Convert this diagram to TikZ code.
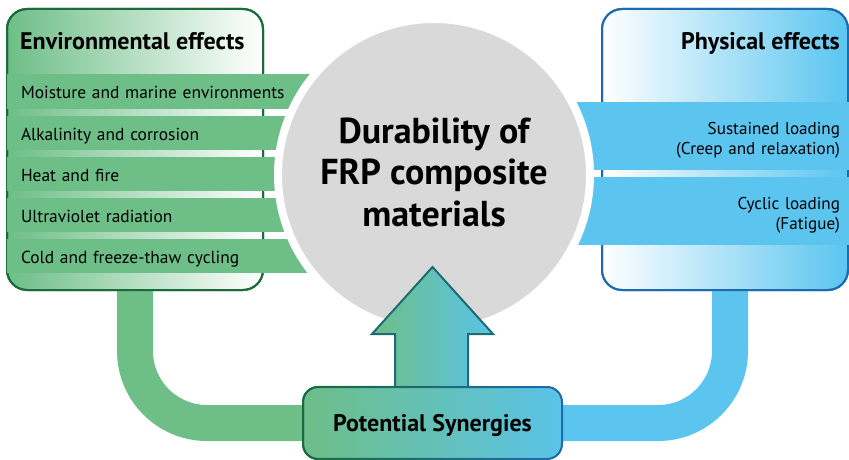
\documentclass[tikz,border=0pt]{standalone}
\usepackage{fontspec}
\setmainfont{PT Sans}
\usetikzlibrary{fadings}

\definecolor{envgreen}{RGB}{110,190,135}
\definecolor{envdark}{RGB}{28,107,58}
\definecolor{physblue}{RGB}{91,197,240}
\definecolor{physdark}{RGB}{30,108,176}
\definecolor{synblue}{RGB}{90,195,232}
\definecolor{arrowdark}{RGB}{28,108,114}
\definecolor{coregray}{RGB}{217,217,217}

\begin{document}
\begin{tikzpicture}[x=1pt,y=-1pt,
  box/.style={rectangle, rounded corners=20, line width=2, inner sep=0, outer sep=0},
  envbox/.style={box, draw=envdark, left color=envgreen, right color=white,
    minimum width=256, minimum height=281},
  physbox/.style={box, draw=physdark, left color=white, right color=physblue,
    minimum width=246, minimum height=281},
  boxtitle/.style={inner sep=0, font=\bfseries\fontsize{24}{28}\selectfont},
  lband/.style={rectangle, fill=envgreen, inner sep=0, minimum height=34,
    minimum width=323, text width=295, align=left, text height=15, text depth=0,
    font=\fontsize{17.4}{20}\selectfont},
  rband/.style={rectangle, fill=physblue, inner sep=0, minimum height=68,
    minimum width=289, text width=271, align=right, text height=12.5, text depth=16.5,
    font=\fontsize{17.1}{20.5}\selectfont},
  pipe/.style={line width=36, rounded corners=72},
  core/.style={circle, fill=coregray, draw=white, line width=8, inner sep=0,
    minimum size=312, align=center, text depth=6,
    font=\bfseries\fontsize{36}{41.5}\selectfont},
  synbox/.style={rectangle, rounded corners=15, inner sep=0, outer sep=0,
    minimum width=259, minimum height=72, left color=envgreen, right color=synblue,
    text height=17, text depth=0, font=\bfseries\fontsize{24}{28}\selectfont},
]
\useasboundingbox (0,0) rectangle (849,460);

% the two framed groups of effects
\node[envbox] (env) at (135,149.5) {};
\node[physbox] (phys) at (725,149.5) {};

% ends of the pipes, inside the synergy box
\coordinate (synL) at (310,423);
\coordinate (synR) at (555,423);

% pipes leading down from the groups into the synergy box
\draw[pipe, envgreen] (env.south) |- (synL);
\draw[pipe, physblue] (synR) -| ([xshift=5]phys.south);

% frames again over the pipe ends
\draw[envdark, line width=2, rounded corners=20] (env.north west) rectangle (env.south east);
\draw[physdark, line width=2, rounded corners=20] (phys.north west) rectangle (phys.south east);

\node[boxtitle, anchor=base west] (envtitle) at (20,49.3) {Environmental effects};
\node[boxtitle, anchor=base east] (phystitle) at (840,49.3) {Physical effects};

% environmental effects
\node[lband] (e1) at (168.5,91.5)  {Moisture and marine environments};
\node[lband] (e2) at (168.5,132.5) {Alkalinity and corrosion};
\node[lband] (e3) at (168.5,174)   {Heat and fire};
\node[lband] (e4) at (168.5,214.5) {Ultraviolet radiation};
\node[lband] (e5) at (168.5,255.5) {Cold and freeze-thaw cycling};

% physical effects
\node[rband] (p1) at (704.5,136) {Sustained loading\\(Creep and relaxation)};
\node[rband] (p2) at (704.5,211) {Cyclic loading\\(Fatigue)};

% central topic
\node[core] (core) at (434,175) {Durability of\\FRP composite\\materials};

% upward block arrow from the synergies into the centre
\draw[line width=2, arrowdark, left color=envgreen, right color=synblue]
  (395,400) -- (395,334) -- (372,334) -- (432.5,267) -- (493,334)
  -- (468,334) -- (468,400) -- cycle;

% synergy box with a green-to-blue frame
\node[synbox, draw=physdark, line width=2] (syn) at (432.5,423) {Potential Synergies};
\draw[envdark, line width=2, rounded corners=15, path fading=east]
  (syn.north west) rectangle (syn.south east);
\end{tikzpicture}
\end{document}
